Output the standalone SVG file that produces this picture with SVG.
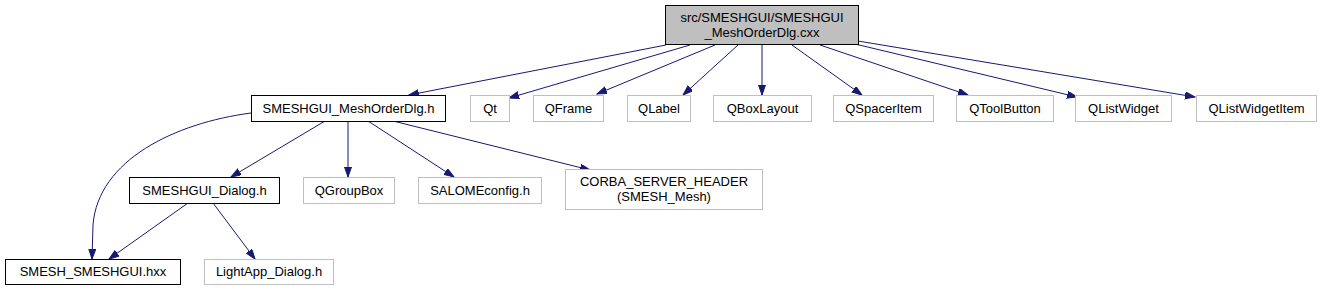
<svg xmlns="http://www.w3.org/2000/svg" width="1321" height="291" viewBox="0 0 1321 291">
<style>
text{font-family:"Liberation Sans",Arial,sans-serif;font-size:13px;fill:#000;text-anchor:middle}
.b{fill:#fff;stroke:#000;stroke-width:1}
.g{fill:#fff;stroke:#bfbfbf;stroke-width:1}
.r{fill:#bfbfbf;stroke:#000;stroke-width:1}
.e{fill:none;stroke:#191970;stroke-width:1;marker-end:url(#a)}
</style>
<defs>
<marker id="a" markerUnits="userSpaceOnUse" markerWidth="11" markerHeight="8" refX="10" refY="3.5" orient="auto">
<path d="M0,0 L10,3.5 L0,7 z" fill="#191970" stroke="#191970" stroke-width="1"/>
</marker>
</defs>
<rect width="1321" height="291" fill="#fff"/>
<g id="edges">
<path class="e" d="M666,45 L409,95"/>
<path class="e" d="M690,45 L509,98"/>
<path class="e" d="M715,45 L597,94"/>
<path class="e" d="M738,45 L683,95"/>
<path class="e" d="M762,45 L762,95"/>
<path class="e" d="M792,45 L862,95"/>
<path class="e" d="M820,45 L968,95"/>
<path class="e" d="M855,44 L1077,97"/>
<path class="e" d="M858,41 L1195,97"/>
<path class="e" d="M325,121 L231,177"/>
<path class="e" d="M348,121 L348,177"/>
<path class="e" d="M368,121 L454,177"/>
<path class="e" d="M393,121 L590,170"/>
<path class="e" d="M251,113 C175,123 98,160 93,225 L92,259"/>
<path class="e" d="M188,203 L109,259"/>
<path class="e" d="M213,203 L255,259"/>
</g>
<g id="root"><rect class="r" x="665.5" y="5.5" width="193" height="39"/><text x="762" y="22">src/SMESHGUI/SMESHGUI</text><text x="762" y="37">_MeshOrderDlg.cxx</text></g>
<g id="meshorderdlg"><rect class="b" x="251.5" y="95.5" width="194" height="26"/><text x="348.5" y="112.5">SMESHGUI_MeshOrderDlg.h</text></g>
<g id="qt"><rect class="g" x="470.5" y="95.5" width="39" height="26"/><text x="490" y="112.5">Qt</text></g>
<g id="qframe"><rect class="g" x="533.5" y="95.5" width="70" height="26"/><text x="568.5" y="112.5">QFrame</text></g>
<g id="qlabel"><rect class="g" x="627.5" y="95.5" width="63" height="26"/><text x="659" y="112.5">QLabel</text></g>
<g id="qboxlayout"><rect class="g" x="713.5" y="95.5" width="98" height="26"/><text x="762.5" y="112.5">QBoxLayout</text></g>
<g id="qspaceritem"><rect class="g" x="833.5" y="95.5" width="100" height="26"/><text x="883.5" y="112.5">QSpacerItem</text></g>
<g id="qtoolbutton"><rect class="g" x="956.5" y="95.5" width="97" height="26"/><text x="1005" y="112.5">QToolButton</text></g>
<g id="qlistwidget"><rect class="g" x="1075.5" y="95.5" width="96" height="26"/><text x="1123.5" y="112.5">QListWidget</text></g>
<g id="qlistwidgetitem"><rect class="g" x="1196.5" y="95.5" width="120" height="26"/><text x="1256.5" y="112.5">QListWidgetItem</text></g>
<g id="dialog"><rect class="b" x="129.5" y="177.5" width="150" height="26"/><text x="204.5" y="194.5">SMESHGUI_Dialog.h</text></g>
<g id="qgroupbox"><rect class="g" x="303.5" y="177.5" width="91" height="26"/><text x="349" y="194.5">QGroupBox</text></g>
<g id="salomeconfig"><rect class="g" x="418.5" y="177.5" width="123" height="26"/><text x="480" y="194.5">SALOMEconfig.h</text></g>
<g id="corba"><rect class="g" x="565.5" y="169.5" width="197" height="40"/><text x="664" y="185.5">CORBA_SERVER_HEADER</text><text x="664" y="200.5">(SMESH_Mesh)</text></g>
<g id="smeshgui"><rect class="b" x="5.5" y="259.5" width="175" height="25"/><text x="93" y="276">SMESH_SMESHGUI.hxx</text></g>
<g id="lightapp"><rect class="g" x="204.5" y="259.5" width="129" height="25"/><text x="269" y="276">LightApp_Dialog.h</text></g>
</svg>
